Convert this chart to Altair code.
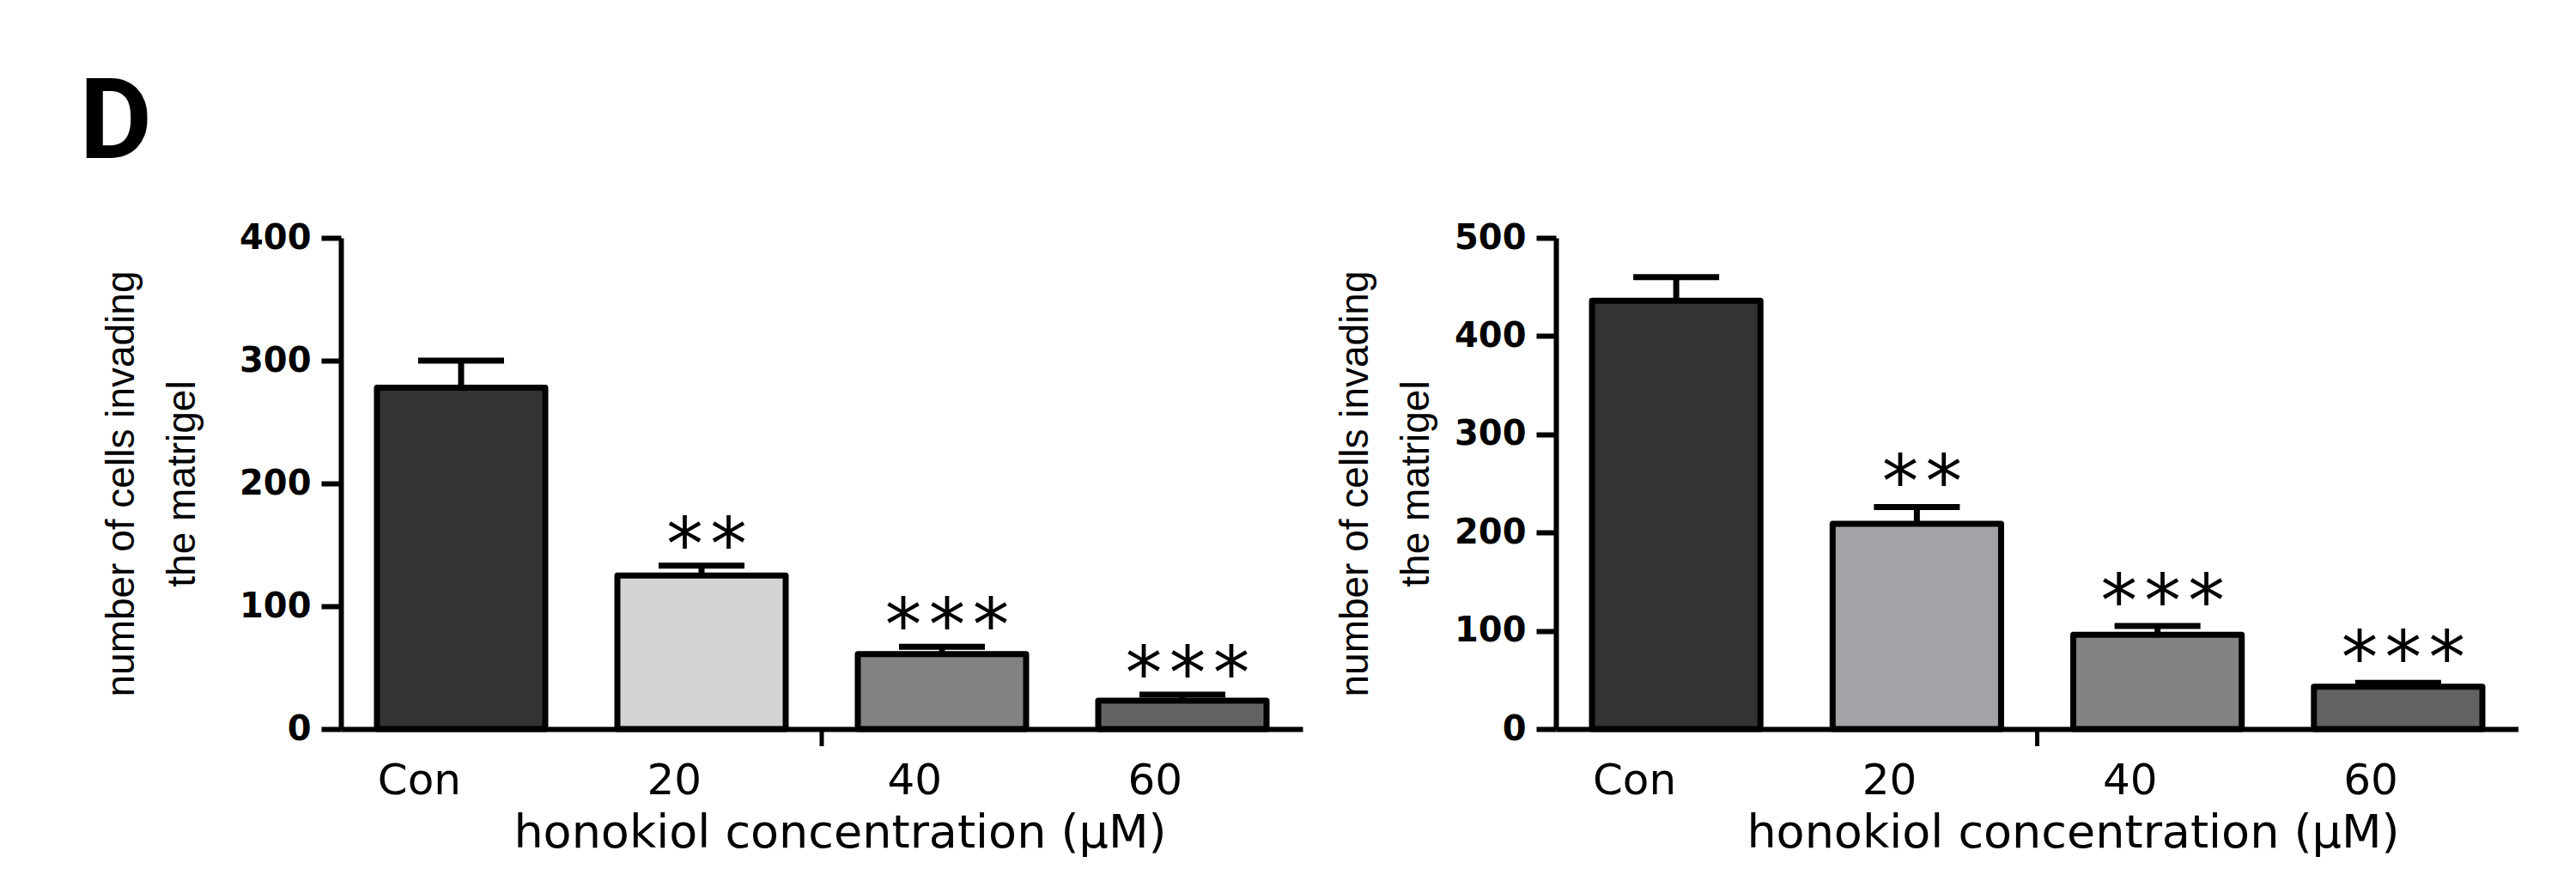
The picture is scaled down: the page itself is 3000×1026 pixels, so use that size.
import altair as alt
import pandas as pd

# ---------------- data ----------------
groups = ["Con", "20", "40", "60"]

left_values = [278, 125, 61, 23]
left_upper = [300, 133, 67, 28]
left_stars = ["", "**", "***", "***"]
left_colors = ["#333333", "#d4d4d4", "#828282", "#636363"]
left_ticks = [0, 100, 200, 300, 400]

right_values = [436, 209, 96, 43]
right_upper = [460, 226, 105, 47]
right_stars = ["", "**", "***", "***"]
right_colors = ["#333333", "#a3a2a7", "#838383", "#626262"]
right_ticks = [0, 100, 200, 300, 400, 500]

y_title = ["number of cells invading", "the matrigel"]
x_title = "honokiol concentration (µM)"
panel_label = "D"

HS = "\u200a"  # hair space to widen the star groups


def panel(values, upper, stars, colors, ticks, ymax, W, H, ytitle_pad,
          xtitle_x, star_dy):
    df = pd.DataFrame({
        "group": groups,
        "value": values,
        "upper": upper,
        "stars": [HS.join(list(s)) for s in stars],
        "color": colors,
    })
    xs = alt.Scale(paddingInner=0.3, paddingOuter=0.15)
    ys = alt.Scale(domain=[0, ymax], nice=False, zero=True)
    x_axis = alt.Axis(
        title=x_title, labelAngle=0, ticks=False, tickSize=0,
        domainWidth=6, domainColor="black",
        labelFont="DejaVu Sans", labelFontSize=50, labelColor="black",
        labelPadding=60,
        titleFont="DejaVu Sans", titleFontSize=54, titleFontWeight="normal",
        titleColor="black", titlePadding=9, titleX=xtitle_x,
    )
    y_axis = alt.Axis(
        values=ticks, title=y_title, grid=False,
        domainWidth=6, domainColor="black",
        tickWidth=6, tickColor="black", tickSize=23,
        labelFont="DejaVu Sans", labelFontSize=40, labelFontWeight="bold",
        labelColor="black", labelPadding=12,
        titleFont="Liberation Sans", titleFontSize=46, titleFontWeight="normal",
        titleColor="black", titleLineHeight=71, titlePadding=ytitle_pad,
    )
    X = alt.X("group:N", sort=groups, scale=xs, axis=x_axis)
    Xn = alt.X("group:N", sort=groups)
    base = alt.Chart(df)
    err = base.mark_rule(color="black", strokeWidth=7).encode(
        x=Xn, y=alt.Y("value:Q", scale=ys, axis=y_axis), y2="upper:Q")
    cap = base.mark_tick(color="black", thickness=7, size=100, opacity=1).encode(
        x=Xn, y="upper:Q")
    bars = base.mark_bar(stroke="black", strokeWidth=7, strokeJoin="round",
                         opacity=1).encode(
        x=X, y="value:Q", fill=alt.Fill("color:N", scale=None))
    txt = base.mark_text(font="DejaVu Sans", fontSize=85, baseline="alphabetic",
                         dy=star_dy, dx=6, color="black").encode(
        x=Xn, y="upper:Q", text="stars:N")
    # GraphPad-style single tick between the 20 and 40 bands
    mid = alt.Chart(pd.DataFrame({"group": ["40"]})).mark_rule(
        color="black", strokeWidth=5, xOffset=-42).encode(
        x=alt.X("group:N", sort=groups, bandPosition=0),
        y=alt.datum(0), y2=alt.value(H + 20))
    return alt.layer(err, cap, bars, txt, mid).properties(width=W, height=H)


left = panel(left_values, left_upper, left_stars, left_colors, left_ticks,
             400, 1120, 572, 42, 581, 5)
right = panel(right_values, right_upper, right_stars, right_colors, right_ticks,
              500, 1121, 572, 20, 602, 1)

chart = alt.hconcat(left, right, spacing=38).properties(
    title=alt.TitleParams(panel_label, anchor="start", frame="bounds",
                          font="Roboto", fontSize=130, fontWeight="bold",
                          color="black", offset=45, dx=-26),
    padding={"left": 84, "top": 71, "right": 0, "bottom": 30},
    background="white",
).configure_view(stroke=None)

chart.save("out.html", embed_options={"renderer": "svg", "actions": False})
